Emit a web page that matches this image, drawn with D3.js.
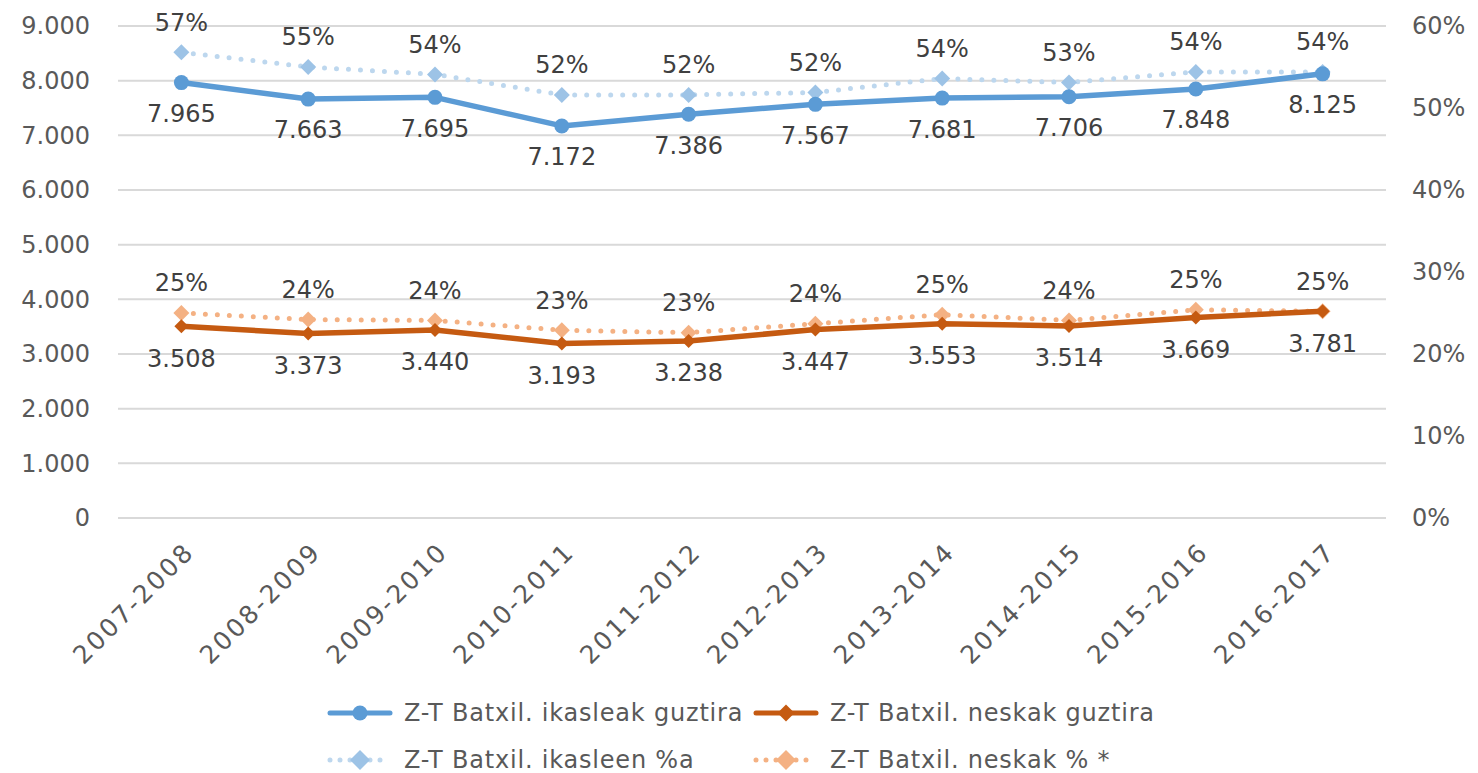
<!DOCTYPE html>
<html>
<head>
<meta charset="utf-8">
<script src="https://cdn.jsdelivr.net/npm/d3@7"></script>
<style>
  body { margin: 0; background: #fff; }
  text { font-family: "DejaVu Sans", sans-serif; }
</style>
</head>
<body>
<svg id="vis" width="1478" height="773"></svg>
<script>
// chart data
const years = ["2007-2008", "2008-2009", "2009-2010", "2010-2011", "2011-2012",
               "2012-2013", "2013-2014", "2014-2015", "2015-2016", "2016-2017"];
const totalStudents = [7965, 7663, 7695, 7172, 7386, 7567, 7681, 7706, 7848, 8125];
const girlsStudents = [3508, 3373, 3440, 3193, 3238, 3447, 3553, 3514, 3669, 3781];
const totalPct = [0.568, 0.550, 0.541, 0.516, 0.516, 0.519, 0.536, 0.531, 0.544, 0.544];
const girlsPct = [0.250, 0.242, 0.241, 0.229, 0.226, 0.237, 0.248, 0.241, 0.254, 0.252];
const leftTicks = [0, 1000, 2000, 3000, 4000, 5000, 6000, 7000, 8000, 9000];
const rightTicks = [0, 0.1, 0.2, 0.3, 0.4, 0.5, 0.6];
const legendNames = ["Z-T Batxil. ikasleak guztira", "Z-T Batxil. neskak guztira",
                     "Z-T Batxil. ikasleen %a", "Z-T Batxil. neskak % *"];

const MARGINS = {top: 26, left: 118, right: 1386, bottom: 518};

const svg = d3.select("#vis");

const x = d3.scalePoint().domain(years).range([MARGINS.left, MARGINS.right]).padding(0.5);
const yLeft = d3.scaleLinear().domain([0, 9000]).range([MARGINS.bottom, MARGINS.top]);
const yRight = d3.scaleLinear().domain([0, 0.6]).range([MARGINS.bottom, MARGINS.top]);

const fmtNum = d3.formatLocale({decimal: ",", thousands: ".", grouping: [3], currency: ["", "€"]}).format(",d");
const fmtPct = d => Math.round(d * 100) + "%";

// gridlines
svg.append("g").selectAll("line")
    .data(leftTicks)
    .enter().append("line")
    .attr("x1", MARGINS.left).attr("x2", MARGINS.right)
    .attr("y1", d => yLeft(d)).attr("y2", d => yLeft(d))
    .style("stroke", "#d9d9d9").style("stroke-width", 2);

// left axis
const leftAxis = svg.append("g")
    .attr("transform", `translate(${MARGINS.left - 28}, 0)`)
    .call(d3.axisLeft(yLeft).tickValues(leftTicks).tickFormat(fmtNum).tickSize(0).tickPadding(0));
leftAxis.select(".domain").remove();
leftAxis.selectAll("text").style("font-size", "24px").style("fill", "#595959")
    .style("font-family", "DejaVu Sans, sans-serif");

// right axis
const rightAxis = svg.append("g")
    .attr("transform", `translate(${MARGINS.right + 26}, 0)`)
    .call(d3.axisRight(yRight).tickValues(rightTicks).tickFormat(fmtPct).tickSize(0).tickPadding(0));
rightAxis.select(".domain").remove();
rightAxis.selectAll("text").style("font-size", "24px").style("fill", "#595959")
    .style("font-family", "DejaVu Sans, sans-serif");

// category labels, rotated
svg.append("g").selectAll("text")
    .data(years)
    .enter().append("text")
    .attr("transform", d => `translate(${x(d) + 1}, 540) rotate(-45)`)
    .attr("dy", "0.75em")
    .style("text-anchor", "end")
    .style("font-size", "25px")
    .style("letter-spacing", "2.5px")
    .style("fill", "#595959")
    .text(d => d);

// square diamond (rotated square) of a given full width
function diamondPath(w){
    const h = w / 2;
    return `M0,${-h}L${h},0L0,${h}L${-h},0Z`;
}

function drawSeries(values, yScale, opts){
    const pts = values.map((v, i) => [x(years[i]), yScale(v)]);
    const g = svg.append("g");
    g.append("path")
        .attr("d", d3.line()(pts))
        .style("fill", "none")
        .style("stroke", opts.lineColour)
        .style("stroke-width", opts.width)
        .style("stroke-linecap", opts.dotted ? "round" : "butt")
        .style("stroke-linejoin", "round")
        .style("stroke-dasharray", opts.dotted ? "0 12" : null);
    if (opts.marker === "circle") {
        g.selectAll("circle").data(pts).enter().append("circle")
            .attr("cx", d => d[0]).attr("cy", d => d[1]).attr("r", 7.5)
            .style("fill", opts.markerColour);
    } else {
        g.selectAll(".mk").data(pts).enter().append("path")
            .attr("class", "mk")
            .attr("transform", d => `translate(${d[0]},${d[1]})`)
            .attr("d", diamondPath(opts.markerSize))
            .style("fill", opts.markerColour);
    }
    g.selectAll(".lbl").data(values).enter().append("text")
        .attr("class", "lbl")
        .attr("x", (d, i) => pts[i][0])
        .attr("y", (d, i) => pts[i][1] + opts.labelOffset)
        .attr("dy", "0.35em")
        .style("text-anchor", "middle")
        .style("font-size", "24px")
        .style("fill", "#404040")
        .text(opts.format);
}

drawSeries(totalPct, yRight, {lineColour: "#bdd7ee", width: 5, dotted: true, marker: "diamond",
    markerColour: "#9dc3e6", markerSize: 16, labelOffset: -30, format: fmtPct});
drawSeries(girlsPct, yRight, {lineColour: "#f4b183", width: 5, dotted: true, marker: "diamond",
    markerColour: "#f4b183", markerSize: 16, labelOffset: -30, format: fmtPct});
drawSeries(totalStudents, yLeft, {lineColour: "#5b9bd5", width: 5.5, dotted: false, marker: "circle",
    markerColour: "#5b9bd5", labelOffset: 31, format: fmtNum});
drawSeries(girlsStudents, yLeft, {lineColour: "#c55a11", width: 5.5, dotted: false, marker: "diamond",
    markerColour: "#c55a11", markerSize: 14, labelOffset: 32, format: fmtNum});

// legend
const legendItems = [
    {name: legendNames[0], colour: "#5b9bd5", mk: "#5b9bd5", dotted: false, circle: true, lx: 326, ly: 713},
    {name: legendNames[1], colour: "#c55a11", mk: "#c55a11", dotted: false, circle: false, lx: 752, ly: 713},
    {name: legendNames[2], colour: "#bdd7ee", mk: "#9dc3e6", dotted: true, circle: false, lx: 326, ly: 760},
    {name: legendNames[3], colour: "#f4b183", mk: "#f4b183", dotted: true, circle: false, lx: 752, ly: 760}
];
const legend = svg.append("g").selectAll("g")
    .data(legendItems)
    .enter().append("g")
    .attr("transform", d => `translate(${d.lx}, ${d.ly})`);
legend.append("line")
    .attr("x1", 4).attr("x2", 64).attr("y1", 0).attr("y2", 0)
    .style("stroke", d => d.colour).style("stroke-width", 5)
    .style("stroke-linecap", "round")
    .style("stroke-dasharray", d => d.dotted ? "0 10" : null);
legend.append("path")
    .attr("transform", "translate(34, 0)")
    .attr("d", d => d.circle ? d3.symbol().type(d3.symbolCircle).size(177)() : diamondPath(d.dotted ? 20 : 17))
    .style("fill", d => d.mk);
legend.append("text")
    .attr("x", 78).attr("y", 0).attr("dy", "0.35em")
    .style("font-size", "24px")
    .style("letter-spacing", "0.8px")
    .style("fill", "#595959")
    .text(d => d.name);
</script>
</body>
</html>
